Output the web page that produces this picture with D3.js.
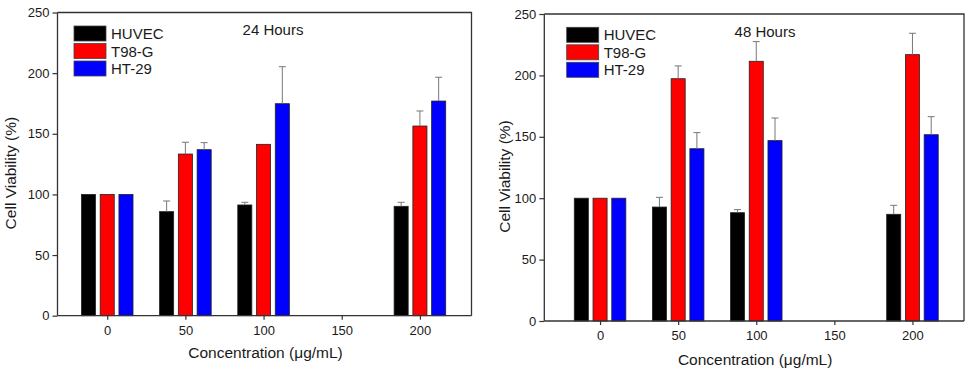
<!DOCTYPE html>
<html>
<head>
  <meta charset="utf-8">
  <title>Cell viability 24 / 48 hours</title>
  <script src="https://d3js.org/d3.v7.min.js"></script>
  <style>
    body { margin: 0; background: #fff; }
    svg text { font-family: "Liberation Sans", Arial, sans-serif; fill: #1a1a1a; }
  </style>
</head>
<body>
  <script>
    // categories and series
    let concentrations = [0, 50, 100, 200];
    let xTicks = [0, 50, 100, 150, 200];
    let yTicks = [0, 50, 100, 150, 200, 250];
    let cellLines = ["HUVEC", "T98-G", "HT-29"];
    let colors = ["#000000", "#ff0000", "#0000ff"];

    // 24 hours: mean and upper error bar end
    let huvec24 = [100, 85.8, 91.3, 90.2];
    let huvec24Err = [0, 8.8, 2.2, 3.3];
    let t98g24 = [100, 133.3, 141.3, 156.4];
    let t98g24Err = [0, 9.7, 0, 12.4];
    let ht2924 = [100, 136.9, 174.8, 177];
    let ht2924Err = [0, 5.8, 30.5, 19.6];

    // 48 hours
    let huvec48 = [100, 92.8, 88.2, 86.9];
    let huvec48Err = [0, 7.9, 2.5, 7.3];
    let t98g48 = [100, 197.3, 211.5, 216.9];
    let t98g48Err = [0, 10.4, 16, 17.4];
    let ht2948 = [100, 140.3, 146.9, 151.7];
    let ht2948Err = [0, 13.1, 18.4, 14.7];

    let svg = d3.select("body")
                .append("svg")
                .attr("width", 969)
                .attr("height", 371);

    function drawChart(opts) {
      let x = d3.scaleLinear()
                .domain(opts.xDomain)
                .range([opts.left, opts.right]);
      let y = d3.scaleLinear()
                .domain([0, 250])
                .range([opts.bottom, opts.top]);

      let g = svg.append("g");

      // frame (top and right)
      g.append("path")
       .attr("d", "M" + opts.left + "," + opts.top + "H" + opts.right + "V" + opts.bottom)
       .attr("fill", "none")
       .attr("stroke", "#333")
       .attr("stroke-width", 1.3);

      // bars
      let series = opts.values.map(function(vals, i) {
        return vals.map(function(v, j) {
          return { key: i, c: concentrations[j], v: v, e: opts.errors[i][j] };
        });
      });
      let offsets = [-12, 0, 12];
      let bw = x(9) - x(0);

      series.forEach(function(s, i) {
        let bars = g.append("g");
        bars.selectAll("rect")
            .data(s)
            .enter()
            .append("rect")
            .attr("x", function(d) { return x(d.c + offsets[i]) - bw / 2; })
            .attr("y", function(d) { return y(d.v); })
            .attr("width", bw)
            .attr("height", function(d) { return y(0) - y(d.v); })
            .attr("fill", colors[i])
            .attr("stroke", "#222")
            .attr("stroke-width", 0.8);

        let errs = s.filter(function(d) { return d.e > 0; });
        bars.selectAll("line.err")
            .data(errs)
            .enter()
            .append("line")
            .attr("class", "err")
            .attr("x1", function(d) { return x(d.c + offsets[i]); })
            .attr("x2", function(d) { return x(d.c + offsets[i]); })
            .attr("y1", function(d) { return y(d.v); })
            .attr("y2", function(d) { return y(d.v + d.e); })
            .attr("stroke", "#777")
            .attr("stroke-width", 1);
        bars.selectAll("line.cap")
            .data(errs)
            .enter()
            .append("line")
            .attr("class", "cap")
            .attr("x1", function(d) { return x(d.c + offsets[i]) - 3.5; })
            .attr("x2", function(d) { return x(d.c + offsets[i]) + 3.5; })
            .attr("y1", function(d) { return y(d.v + d.e); })
            .attr("y2", function(d) { return y(d.v + d.e); })
            .attr("stroke", "#777")
            .attr("stroke-width", 1);
      });

      // axes
      let xAxis = g.append("g")
         .attr("transform", "translate(0," + opts.bottom + ")")
         .call(d3.axisBottom(x).tickValues(xTicks).tickSize(4).tickPadding(6));
      let yAxis = g.append("g")
         .attr("transform", "translate(" + opts.left + ",0)")
         .call(d3.axisLeft(y).tickValues(yTicks).tickSize(5).tickPadding(3));
      [xAxis, yAxis].forEach(function(a) {
        a.select(".domain").attr("stroke", "#333").attr("stroke-width", 1.3);
        a.selectAll(".tick line").attr("stroke", "#333").attr("stroke-width", 1.2);
        a.selectAll("text").style("font-size", "13px").attr("fill", "#1a1a1a");
      });
      xAxis.select(".domain").attr("d", "M" + opts.left + ",0H" + opts.right);
      yAxis.select(".domain").attr("d", "M0," + opts.top + "V" + opts.bottom);

      // axis titles
      g.append("text")
       .attr("x", (opts.left + opts.right) / 2 + 1)
       .attr("y", opts.xTitleY)
       .attr("text-anchor", "middle")
       .style("font-size", "15.5px")
       .text("Concentration (μg/mL)");
      g.append("text")
       .attr("transform", "translate(" + opts.yTitleX + "," + ((opts.top + opts.bottom) / 2 + 9) + ") rotate(-90)")
       .attr("text-anchor", "middle")
       .style("font-size", "15.5px")
       .text("Cell Viability (%)");

      // panel label
      g.append("text")
       .attr("x", opts.labelX)
       .attr("y", opts.labelY)
       .attr("text-anchor", "middle")
       .style("font-size", "15px")
       .text(opts.label);

      // legend
      let legend = g.append("g")
                    .attr("transform", "translate(" + opts.legendX + "," + opts.legendY + ")");
      cellLines.forEach(function(name, i) {
        legend.append("rect")
              .attr("x", 0)
              .attr("y", i * 17.5)
              .attr("width", 32)
              .attr("height", 15)
              .attr("fill", colors[i])
              .attr("stroke", "#444")
              .attr("stroke-width", 0.8);
        legend.append("text")
              .attr("x", 37)
              .attr("y", i * 17.5 + 13)
              .style("font-size", "15px")
              .text(name);
      });
    }

    drawChart({
      left: 57.5, right: 471.5, top: 12.5, bottom: 315.7,
      xDomain: [-31.8, 233],
      values: [huvec24, t98g24, ht2924],
      errors: [huvec24Err, t98g24Err, ht2924Err],
      xTitleY: 358, yTitleX: 16,
      label: "24 Hours", labelX: 273, labelY: 35,
      legendX: 74, legendY: 26
    });

    drawChart({
      left: 544.3, right: 964, top: 14, bottom: 321,
      xDomain: [-35.7, 233],
      values: [huvec48, t98g48, ht2948],
      errors: [huvec48Err, t98g48Err, ht2948Err],
      xTitleY: 364.5, yTitleX: 510,
      label: "48 Hours", labelX: 765, labelY: 37,
      legendX: 566.7, legendY: 27.3
    });
  </script>
</body>
</html>
